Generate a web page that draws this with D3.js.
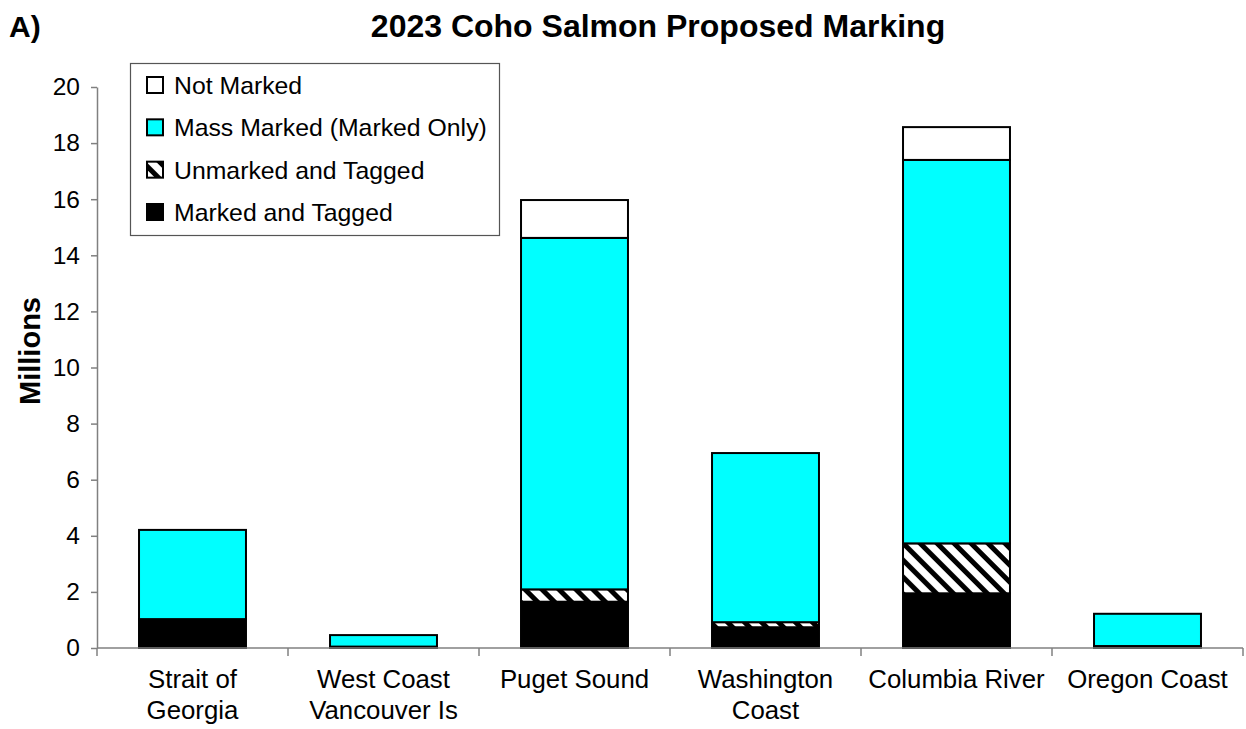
<!DOCTYPE html>
<html>
<head>
<meta charset="utf-8">
<script src="https://cdn.jsdelivr.net/npm/d3@7"></script>
<style>
  html, body { margin: 0; padding: 0; background: #fff; }
  svg { display: block; font-family: "Liberation Sans", Arial, sans-serif; }
</style>
</head>
<body>
<svg id="chart" width="1246" height="729"></svg>
<script>
// ---- Data ----
const categories = ["Strait of\nGeorgia", "West Coast\nVancouver Is", "Puget Sound", "Washington\nCoast", "Columbia River", "Oregon Coast"];
const markedAndTagged   = [1.03, 0.05, 1.65, 0.74, 1.95, 0.07];
const unmarkedAndTagged = [0.00, 0.00, 0.44, 0.18, 1.78, 0.00];
const massMarked        = [3.18, 0.41, 12.53, 6.03, 13.67, 1.15];
const notMarked         = [0.00, 0.00, 1.35, 0.00, 1.17, 0.00];
const seriesNames = ["Marked and Tagged", "Unmarked and Tagged", "Mass Marked (Marked Only)", "Not Marked"];
const legendOrder = ["Not Marked", "Mass Marked (Marked Only)", "Unmarked and Tagged", "Marked and Tagged"];
const yTicks = [0, 2, 4, 6, 8, 10, 12, 14, 16, 18, 20];
const titleText = "2023 Coho Salmon Proposed Marking";
const panelLabel = "A)";
const yTitle = "Millions";

// ---- Setup ----
const svg = d3.select("#chart");
const margin = {left: 97, right: 3, top: 87, bottom: 81};
const W = 1246, H = 729;

const defs = svg.append("defs");
const pat = defs.append("pattern")
  .attr("id", "hatch")
  .attr("patternUnits", "userSpaceOnUse")
  .attr("width", 12).attr("height", 12)
  .attr("patternTransform", "rotate(-45)");
pat.append("rect").attr("width", 12).attr("height", 12).attr("fill", "#fff");
pat.append("rect").attr("width", 5).attr("height", 12).attr("fill", "#000");

const fills = {
  "Marked and Tagged": "#000000",
  "Unmarked and Tagged": "url(#hatch)",
  "Mass Marked (Marked Only)": "#00FFFF",
  "Not Marked": "#FFFFFF"
};

const rows = categories.map((c, i) => ({
  cat: c,
  "Marked and Tagged": markedAndTagged[i],
  "Unmarked and Tagged": unmarkedAndTagged[i],
  "Mass Marked (Marked Only)": massMarked[i],
  "Not Marked": notMarked[i]
}));

const x = d3.scaleBand()
  .domain(categories)
  .range([margin.left, W - margin.right])
  .paddingInner(0.44)
  .paddingOuter(0.22);

const y = d3.scaleLinear()
  .domain([0, 20])
  .range([H - margin.bottom, margin.top]);

const stack = d3.stack().keys(seriesNames);
const stacked = stack(rows);

// ---- Bars ----
const gBars = svg.append("g");
stacked.forEach(layer => {
  gBars.append("g")
    .selectAll("rect")
    .data(layer.filter(d => d[1] - d[0] > 0))
    .join("rect")
    .attr("x", d => x(d.data.cat))
    .attr("width", x.bandwidth())
    .attr("y", d => y(d[1]))
    .attr("height", d => y(d[0]) - y(d[1]))
    .attr("fill", fills[layer.key])
    .attr("stroke", "#000")
    .attr("stroke-width", 2);
});

// ---- Axes ----
const axisColor = "#808080";
const yAxis = svg.append("g")
  .attr("transform", `translate(${margin.left},0)`)
  .call(d3.axisLeft(y).tickValues(yTicks).tickSize(6).tickPadding(11).tickSizeOuter(0));
yAxis.select(".domain").attr("stroke", axisColor).attr("stroke-width", 1.5);
yAxis.selectAll(".tick line").attr("stroke", axisColor).attr("stroke-width", 1.5);
yAxis.selectAll(".tick text")
  .attr("font-size", 24.5).attr("fill", "#000")
  .attr("font-family", "'Liberation Sans', Arial, sans-serif");

// x axis with ticks at category boundaries
const xAxisG = svg.append("g").attr("transform", `translate(0,${y(0)})`);
xAxisG.append("line")
  .attr("x1", margin.left).attr("x2", W - margin.right)
  .attr("y1", 0).attr("y2", 0)
  .attr("stroke", axisColor).attr("stroke-width", 1.5);
const bounds = categories.map(c => x(c) - x.step() * x.paddingInner() / 2);
bounds.push(W - margin.right);
xAxisG.selectAll("line.tk")
  .data(bounds)
  .join("line")
  .attr("class", "tk")
  .attr("x1", d => d).attr("x2", d => d)
  .attr("y1", 0).attr("y2", 8)
  .attr("stroke", axisColor).attr("stroke-width", 1.5);

const xl = xAxisG.selectAll("text.xl")
  .data(categories)
  .join("text")
  .attr("class", "xl")
  .attr("x", d => x(d) + x.bandwidth() / 2)
  .attr("y", 40)
  .attr("text-anchor", "middle")
  .attr("font-size", 25.8)
  .attr("fill", "#000");
xl.each(function(d) {
  const lines = d.split("\n");
  const t = d3.select(this);
  lines.forEach((ln, i) => {
    t.append("tspan")
      .attr("x", x(d) + x.bandwidth() / 2)
      .attr("dy", i === 0 ? 0 : 31)
      .text(ln);
  });
});

// ---- Titles ----
svg.append("text")
  .attr("x", 658).attr("y", 37)
  .attr("text-anchor", "middle")
  .attr("font-size", 32).attr("font-weight", "bold")
  .text(titleText);

svg.append("text")
  .attr("x", 9).attr("y", 37)
  .attr("font-size", 30).attr("font-weight", "bold")
  .text(panelLabel);

svg.append("text")
  .attr("transform", `translate(40,351) rotate(-90)`)
  .attr("text-anchor", "middle")
  .attr("font-size", 29).attr("font-weight", "bold")
  .text(yTitle);

// ---- Legend ----
const lg = svg.append("g");
lg.append("rect")
  .attr("x", 130.5).attr("y", 63.5)
  .attr("width", 369).attr("height", 172)
  .attr("fill", "#fff")
  .attr("stroke", "#555").attr("stroke-width", 1.2);
const ly = d3.scalePoint().domain(legendOrder).range([85, 212]);
const items = lg.selectAll("g.item")
  .data(legendOrder)
  .join("g")
  .attr("class", "item")
  .attr("transform", d => `translate(147,${ly(d)})`);
items.append("rect")
  .attr("x", 0).attr("y", -8)
  .attr("width", 16).attr("height", 16)
  .attr("fill", d => fills[d])
  .attr("stroke", "#000").attr("stroke-width", 2);
items.append("text")
  .attr("x", 27).attr("y", 0)
  .attr("dy", "0.36em")
  .attr("font-size", 24.8)
  .attr("fill", "#000")
  .text(d => d);
</script>
</body>
</html>
